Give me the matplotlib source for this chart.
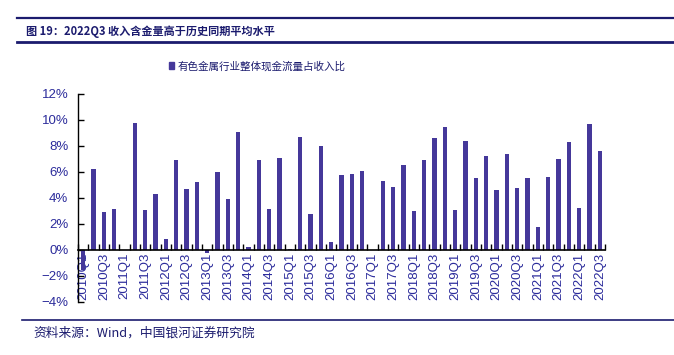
import matplotlib
matplotlib.use("Agg")
import matplotlib.pyplot as plt
from matplotlib.lines import Line2D
from matplotlib.patches import Patch

plt.rcParams['font.family'] = ['Noto Sans CJK SC', 'DejaVu Sans']

# ==== Data ====
quarters = [f"{y}Q{q}" for y in range(2010, 2023) for q in range(1, 5)][:51]
cash_ratio = [-1.5, 6.26, 2.96, 3.14, 0.0, 9.74, 3.09, 4.28, 0.85, 6.9,
              4.71, 5.23, -0.2, 5.98, 3.94, 9.07, 0.2, 6.96, 3.17, 7.11,
              0.08, 8.66, 2.78, 8.01, 0.59, 5.8, 5.85, 6.08, 0.0, 5.31,
              4.82, 6.54, 2.99, 6.9, 8.6, 9.45, 3.04, 8.35, 5.56, 7.26,
              4.64, 7.37, 4.79, 5.51, 1.75, 5.59, 6.98, 8.29, 3.25, 9.69,
              7.65]
y_ticks = [-4, -2, 0, 2, 4, 6, 8, 10, 12]
series_name = "有色金属行业整体现金流量占收入比"
title = "图 19：2022Q3 收入含金量高于历史同期平均水平"
source = "资料来源：Wind，中国银河证券研究院"

BAR = "#45389A"
NAVY = "#1B1B6E"
LABEL = "#2B2B9B"

W, H = 674, 355
fig = plt.figure(figsize=(W / 100, H / 100), dpi=100)

# ==== Header / footer ====
fig.add_artist(Line2D([17 / W, 1], [1 - 18 / H] * 2, color=NAVY, lw=1.6))
fig.add_artist(Line2D([17 / W, 1], [1 - 42 / H] * 2, color=NAVY, lw=2.0))
fig.text(26 / W, 1 - 32 / H, title, fontsize=8.0, fontweight='bold',
         color=NAVY, va='center', ha='left')
fig.add_artist(Line2D([22 / W, 1], [1 - 320 / H] * 2, color=NAVY, lw=1.2))
fig.text(33 / W, 1 - 333 / H, source, fontsize=9.2, style='italic',
         color=NAVY, va='center', ha='left')

# ==== Chart ====
ax = fig.add_axes([78 / W, 1 - 302 / H, (605 - 78) / W, (302 - 94) / H])
x = list(range(len(cash_ratio)))
ax.bar(x, cash_ratio, width=0.4, color=BAR, zorder=2)

ax.set_xlim(-0.5, len(cash_ratio) - 0.5)
ax.set_ylim(-4, 12)
ax.set_yticks(y_ticks)
ax.set_yticklabels([f"{v}%".replace("-", "\u2212") for v in y_ticks],
                   fontsize=9.5, color=LABEL, family='Liberation Sans')
ax.tick_params(axis='y', direction='in', length=4, width=1, pad=7)

ax.spines['top'].set_visible(False)
ax.spines['right'].set_visible(False)
ax.spines['bottom'].set_position(('data', 0))
ax.spines['bottom'].set_linewidth(1.2)
ax.spines['left'].set_linewidth(1.0)

ax.set_xticks(x[::2])
ax.set_xticklabels(quarters[::2], rotation=90, fontsize=9.5, color=LABEL,
                   family='Liberation Sans', va='top')
ax.set_xticks([i - 0.5 for i in range(len(cash_ratio) + 1)], minor=True)
ax.tick_params(axis='x', which='major', length=0, pad=2)
ax.tick_params(axis='x', which='minor', direction='in', length=4, width=1)

handle = Patch(facecolor=BAR, edgecolor=BAR)
fig.legend([handle], [series_name], loc='center', ncol=1,
           bbox_to_anchor=(257 / W, 1 - 66 / H), frameon=False,
           fontsize=7.6, handlelength=0.55, handleheight=0.55,
           handletextpad=0.3, labelcolor=NAVY)

fig.savefig("out.png", dpi=100)
